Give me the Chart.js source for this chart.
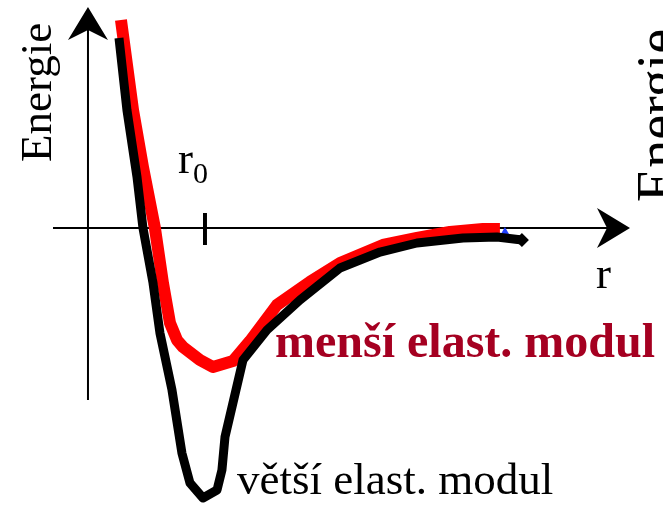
<!DOCTYPE html>
<html>
<head>
<meta charset="utf-8">
<script src="https://cdn.jsdelivr.net/npm/chart.js@4.4.1/dist/chart.umd.min.js"></script>
<style>
  html, body { margin: 0; padding: 0; background: #fff; }
  #wrap { width: 663px; height: 512px; }
</style>
</head>
<body>
<div id="wrap"><canvas id="potential" width="663" height="512"></canvas></div>
<script>
// r in units of r0, energy in units of the depth of the softer well
const rSoft = [0.282, 0.385, 0.470, 0.572, 0.641, 0.701, 0.761, 0.812, 0.957, 1.068,
               1.239, 1.385, 1.615, 1.897, 2.154, 2.521, 2.812, 3.094, 3.376, 3.521];
const eSoft = [1.496, 0.849, 0.439, 0.000, -0.396, -0.683, -0.806, -0.856, -0.950, -1.000,
               -0.957, -0.813, -0.554, -0.388, -0.252, -0.122, -0.072, -0.029, -0.007, -0.007];

const rStiff = [0.265, 0.333, 0.419, 0.470, 0.556, 0.615, 0.718, 0.803, 0.872, 0.983, 1.103,
                1.145, 1.171, 1.239, 1.325, 1.530, 1.812, 2.154, 2.496, 2.812, 3.205, 3.496, 3.709];
const eStiff = [1.367, 0.849, 0.367, 0.000, -0.396, -0.755, -1.165, -1.619, -1.835, -1.942, -1.885,
                -1.741, -1.504, -1.259, -0.950, -0.734, -0.518, -0.288, -0.173, -0.108, -0.072, -0.065, -0.086];

const rMarker = [3.564];
const eMarker = [-0.029];

const r0 = 1;
const labelSoft = 'menší elast. modul';
const labelStiff = 'větší elast. modul';
const axisLabelY = 'Energie';
const axisLabelX = 'r';

const toPoints = (xs, ys) => xs.map((x, i) => ({ x: x, y: ys[i] }));

const SERIF = '"Liberation Serif", "DejaVu Serif", serif';

// axes with arrow heads, drawn under the curves
const axesPlugin = {
  id: 'axes',
  beforeDatasetsDraw(chart) {
    const { ctx, scales: { x, y } } = chart;
    const ox = x.getPixelForValue(0);
    const oy = y.getPixelForValue(0);
    ctx.save();
    ctx.strokeStyle = '#000';
    ctx.fillStyle = '#000';
    ctx.lineWidth = 2;
    ctx.beginPath();
    ctx.moveTo(ox, 400);
    ctx.lineTo(ox, 28);
    ctx.moveTo(53, oy);
    ctx.lineTo(610, oy);
    ctx.stroke();

    // arrow up
    ctx.beginPath();
    ctx.moveTo(ox, 7);
    ctx.lineTo(ox - 20, 40);
    ctx.lineTo(ox, 30);
    ctx.lineTo(ox + 20, 40);
    ctx.closePath();
    ctx.fill();

    // arrow right
    ctx.beginPath();
    ctx.moveTo(630, oy);
    ctx.lineTo(597, oy - 20);
    ctx.lineTo(607, oy);
    ctx.lineTo(597, oy + 20);
    ctx.closePath();
    ctx.fill();

    // r0 tick
    const tx = x.getPixelForValue(r0);
    ctx.lineWidth = 4;
    ctx.beginPath();
    ctx.moveTo(tx, oy - 15);
    ctx.lineTo(tx, oy + 17);
    ctx.stroke();
    ctx.restore();
  }
};

const labelsPlugin = {
  id: 'labels',
  afterDatasetsDraw(chart) {
    const { ctx, scales: { x } } = chart;
    const tx = x.getPixelForValue(r0);
    ctx.save();
    ctx.textAlign = 'left';
    ctx.textBaseline = 'alphabetic';
    ctx.fillStyle = '#000';

    // vertical axis title
    ctx.save();
    ctx.translate(51, 162);
    ctx.rotate(-Math.PI / 2);
    ctx.font = '45px ' + SERIF;
    ctx.fillText(axisLabelY, 0, 0);
    ctx.restore();

    // second panel title, cut by the right edge
    ctx.save();
    ctx.translate(676, 202);
    ctx.rotate(-Math.PI / 2);
    ctx.font = '56px ' + SERIF;
    ctx.fillText(axisLabelY, 0, 0);
    ctx.restore();

    // r0
    ctx.font = '45px ' + SERIF;
    ctx.fillText('r', tx - 27, 173);
    ctx.font = '30px ' + SERIF;
    ctx.fillText('0', tx - 12, 183);

    // r
    ctx.font = '45px ' + SERIF;
    ctx.fillText(axisLabelX, 596, 288);

    ctx.font = 'bold 48px ' + SERIF;
    ctx.fillStyle = '#a50021';
    ctx.fillText(labelSoft, 275, 357);

    ctx.font = '45px ' + SERIF;
    ctx.fillStyle = '#000';
    ctx.fillText(labelStiff, 237, 494);
    ctx.restore();
  }
};

const lastOnly = (n, r) => Array.from({ length: n }, (_, i) => (i === n - 1 ? r : 0));

new Chart(document.getElementById('potential'), {
  type: 'line',
  data: {
    datasets: [
      {
        label: labelStiff,
        data: toPoints(rStiff, eStiff),
        borderColor: '#000',
        backgroundColor: '#000',
        borderWidth: 9,
        borderJoinStyle: 'round',
        borderCapStyle: 'butt',
        tension: 0,
        pointStyle: 'rectRot',
        pointRadius: lastOnly(rStiff.length, 7),
        pointBorderWidth: 0,
        order: 0
      },
      {
        label: 'marker',
        data: toPoints(rMarker, eMarker),
        showLine: false,
        pointStyle: 'triangle',
        pointRadius: 5,
        pointBackgroundColor: '#1f3fff',
        pointBorderWidth: 0,
        order: 1
      },
      {
        label: labelSoft,
        data: toPoints(rSoft, eSoft),
        borderColor: '#ff0000',
        borderWidth: 12,
        borderJoinStyle: 'round',
        borderCapStyle: 'butt',
        tension: 0,
        pointRadius: 0,
        order: 2
      }
    ]
  },
  options: {
    responsive: false,
    animation: false,
    layout: { padding: 0, autoPadding: false },
    plugins: { legend: { display: false }, tooltip: { enabled: false } },
    scales: {
      x: { type: 'linear', display: false, min: -0.752, max: 4.915 },
      y: { type: 'linear', display: false, min: -2.043, max: 1.640 }
    }
  },
  plugins: [axesPlugin, labelsPlugin]
});
</script>
</body>
</html>
